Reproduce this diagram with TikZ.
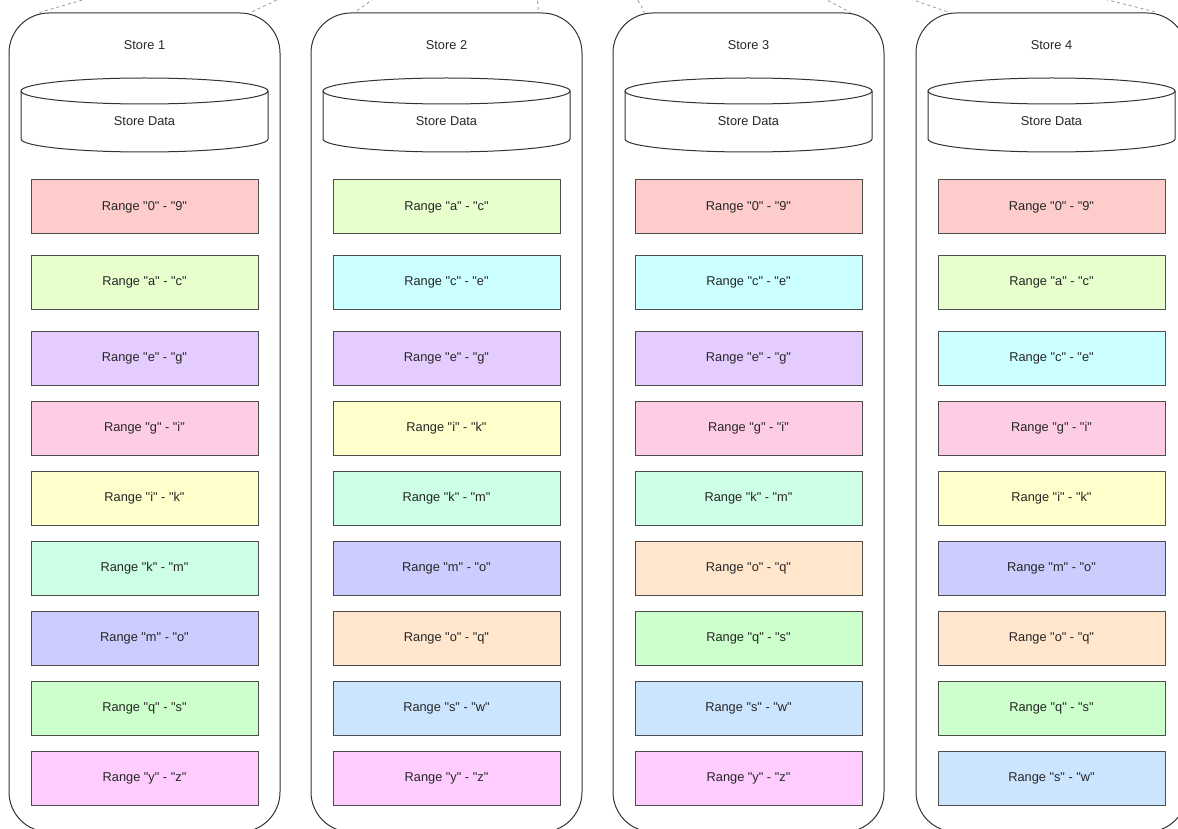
\documentclass[tikz,border=0pt]{standalone}
\usepackage{fontspec}
\setmainfont{Liberation Sans}[Ligatures=TeXOff]
\usetikzlibrary{calc}

% range fills
\definecolor{r09}{HTML}{FFCCCC}
\definecolor{rac}{HTML}{E6FFCC}
\definecolor{rce}{HTML}{CCFFFF}
\definecolor{reg}{HTML}{E5CCFF}
\definecolor{rgi}{HTML}{FFCCE6}
\definecolor{rik}{HTML}{FFFFCC}
\definecolor{rkm}{HTML}{CCFFE6}
\definecolor{rmo}{HTML}{CCCCFF}
\definecolor{roq}{HTML}{FFE6CC}
\definecolor{rqs}{HTML}{CCFFCC}
\definecolor{rsw}{HTML}{CCE5FF}
\definecolor{ryz}{HTML}{FFCCFF}
\definecolor{storeline}{HTML}{333333}
\definecolor{boxline}{HTML}{4D4D4D}
\definecolor{linkgray}{HTML}{9A9A9A}
\definecolor{textgray}{HTML}{262626}

% one column of range boxes: #1 store number, #2 centre x, #3 list lo/hi/colour
\newcommand\rangecolumn[3]{%
  \foreach \lo/\hi/\col [count=\r] in {#3} {%
    \pgfmathsetmacro\yy{{207,282,358,428,498,568,638,708,778}[\r-1]}%
    \node[rangebox, fill=\col] (s#1r\r) at (#2,-\yy) {Range "\lo" - "\hi"};
  }%
}

\begin{document}
\begin{tikzpicture}[x=1pt,y=1pt,
  store/.style={draw=storeline, line width=1pt, rounded corners=40pt,
    minimum width=271pt, minimum height=819pt, inner sep=0pt},
  rangebox/.style={draw=boxline, line width=1pt, minimum width=227pt,
    minimum height=54pt, inner sep=0pt, text=textgray,
    font=\fontsize{12.8}{15}\selectfont},
  label/.style={inner sep=0pt, text=textgray, font=\fontsize{12.8}{15}\selectfont},
  cyl/.style={draw=storeline, line width=1pt},
  link/.style={draw=linkgray, line width=0.8pt, dash pattern=on 3pt off 3pt}]
\useasboundingbox (0,0) rectangle (1178,-829);
\clip (0,0) rectangle (1178,-829);

% store containers, titles and data cylinders
\foreach \s/\cx in {1/144.5,2/446.5,3/748.5,4/1051.5} {
  \node[store] (store\s) at (\cx,-422.5) {};
  \node[label] (title\s) at (\cx,-45) {Store \s};
  \draw[cyl] (\cx-123.5,-91) -- (\cx-123.5,-139)
    arc[start angle=180, end angle=360, x radius=123.5pt, y radius=13pt]
    -- (\cx+123.5,-91);
  \draw[cyl] (\cx,-91) ellipse [x radius=123.5pt, y radius=13pt];
  \node[label] (data\s) at (\cx,-121) {Store Data};
}

% key ranges held by each store
\rangecolumn{1}{144.5}{0/9/r09, a/c/rac, e/g/reg, g/i/rgi, i/k/rik, k/m/rkm, m/o/rmo, q/s/rqs, y/z/ryz}
\rangecolumn{2}{446.5}{a/c/rac, c/e/rce, e/g/reg, i/k/rik, k/m/rkm, m/o/rmo, o/q/roq, s/w/rsw, y/z/ryz}
\rangecolumn{3}{748.5}{0/9/r09, c/e/rce, e/g/reg, g/i/rgi, k/m/rkm, o/q/roq, q/s/rqs, s/w/rsw, y/z/ryz}
\rangecolumn{4}{1051.5}{0/9/r09, a/c/rac, c/e/rce, g/i/rgi, i/k/rik, m/o/rmo, o/q/roq, q/s/rqs, s/w/rsw}

% links coming in from above
\coordinate (u1a) at (99.5,5);
\coordinate (u1b) at (287.4,5);
\coordinate (u2a) at (379,5);
\coordinate (u2b) at (537,5);
\coordinate (u3a) at (635.3,5);
\coordinate (u3b) at (817.4,5);
\coordinate (u4a) at (898.8,5);
\coordinate (u4b) at (1088,5);
\draw[link] (u1a) -- ($(store1.north west)+(31,0)$);
\draw[link] (u1b) -- ($(store1.north east)+(-30,0)$);
\draw[link] (u2a) -- ($(store2.north west)+(44,0)$);
\draw[link] (u2b) -- ($(store2.north east)+(-44,0)$);
\draw[link] (u3a) -- ($(store3.north west)+(32,0)$);
\draw[link] (u3b) -- ($(store3.north east)+(-34,0)$);
\draw[link] (u4a) -- ($(store4.north west)+(34,0)$);
\draw[link] (u4b) -- ($(store4.north east)+(-30,0)$);
\end{tikzpicture}
\end{document}
